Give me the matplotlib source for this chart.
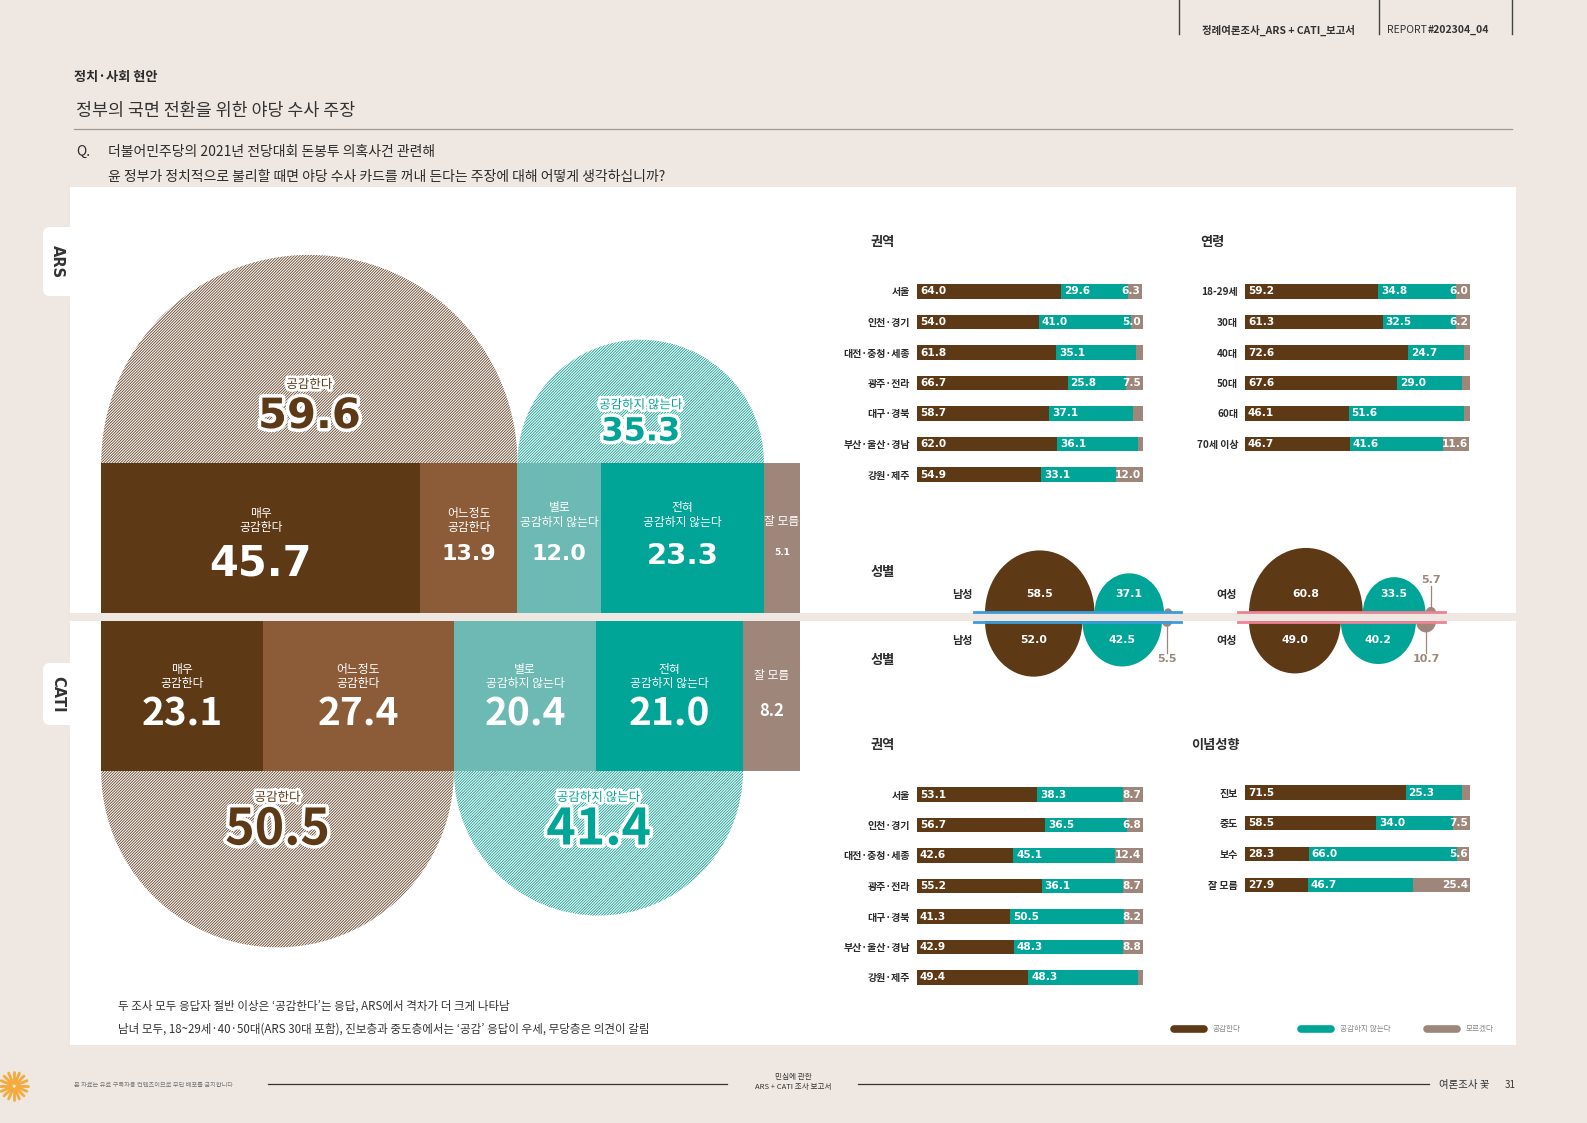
"""
ARS vs CATI survey page: opposition-probe claim, recreated with matplotlib.
"""

import numpy as np
import matplotlib.pyplot as plt
import matplotlib.patheffects as pe
from matplotlib.patches import Wedge, Rectangle, FancyBboxPatch

plt.rcParams['font.family'] = ['Noto Sans CJK KR', 'DejaVu Sans']
plt.rcParams['hatch.linewidth'] = 0.65

# Data

levels = ['매우\n공감한다', '어느정도\n공감한다', '별로\n공감하지 않는다',
          '전혀\n공감하지 않는다', '잘 모름']
ars_detail = [45.7, 13.9, 12.0, 23.3, 5.1]
cati_detail = [23.1, 27.4, 20.4, 21.0, 8.2]

net_labels = ['공감한다', '공감하지 않는다']
ars_net = [59.6, 35.3]
cati_net = [50.5, 41.4]

region = ['서울', '인천·경기', '대전·충청·세종', '광주·전라', '대구·경북',
          '부산·울산·경남', '강원·제주']
ars_region_agree = [64.0, 54.0, 61.8, 66.7, 58.7, 62.0, 54.9]
ars_region_disagree = [29.6, 41.0, 35.1, 25.8, 37.1, 36.1, 33.1]
ars_region_dk = [6.3, 5.0, 3.1, 7.5, 4.2, 1.9, 12.0]

age = ['18-29세', '30대', '40대', '50대', '60대', '70세 이상']
ars_age_agree = [59.2, 61.3, 72.6, 67.6, 46.1, 46.7]
ars_age_disagree = [34.8, 32.5, 24.7, 29.0, 51.6, 41.6]
ars_age_dk = [6.0, 6.2, 2.7, 3.4, 2.3, 11.6]

cati_region_agree = [53.1, 56.7, 42.6, 55.2, 41.3, 42.9, 49.4]
cati_region_disagree = [38.3, 36.5, 45.1, 36.1, 50.5, 48.3, 48.3]
cati_region_dk = [8.7, 6.8, 12.4, 8.7, 8.2, 8.8, 2.3]

ideology = ['진보', '중도', '보수', '잘 모름']
cati_ideo_agree = [71.5, 58.5, 28.3, 27.9]
cati_ideo_disagree = [25.3, 34.0, 66.0, 46.7]
cati_ideo_dk = [3.2, 7.5, 5.6, 25.4]

sex = ['남성', '여성']
ars_sex_agree = [58.5, 60.8]
ars_sex_disagree = [37.1, 33.5]
ars_sex_dk = [4.4, 5.7]
cati_sex_agree = [52.0, 49.0]
cati_sex_disagree = [42.5, 40.2]
cati_sex_dk = [5.5, 10.7]

legend_labels = ['공감한다', '공감하지 않는다', '모르겠다']

# Style

BROWN = '#5e3916'
BROWN2 = '#8b5c37'
TEAL2 = '#6cbab3'
TEAL = '#00a597'
GREY = '#9e877a'
PAGE = '#efe7e1'
INK = '#2b2b2b'
NUM = ['DejaVu Sans']
KR = ['Noto Sans CJK KR', 'DejaVu Sans']
HATCH = '/' * 12

W, H, DPI = 1587, 1123, 100
BAND = 617  # y (px) of the strip that splits ARS (top) from CATI (bottom)

fig = plt.figure(figsize=(W / DPI, H / DPI), dpi=DPI, facecolor=PAGE)
bg = fig.add_axes([0, 0, 1, 1])
bg.set_xlim(0, W)
bg.set_ylim(H, 0)
bg.axis('off')


def px_axes(x0, y0, x1, y1):
    """Transparent axes placed by a pixel box (y measured from the top)."""
    ax = fig.add_axes([x0 / W, 1 - y1 / H, (x1 - x0) / W, (y1 - y0) / H])
    ax.patch.set_visible(False)
    for s in ax.spines.values():
        s.set_visible(False)
    ax.set_xticks([])
    ax.set_yticks([])
    return ax


# Page furniture

bg.add_patch(Rectangle((70, 187), 1446, 858, color='white', lw=0))
for y0, y1, name in [(227, 296, 'ARS'), (663, 725, 'CATI')]:
    bg.add_patch(FancyBboxPatch((43, y0), 40, y1 - y0,
                                boxstyle='round,pad=0,rounding_size=7',
                                fc='white', ec='none'))
    bg.text(57.5, (y0 + y1) / 2, name, rotation=-90, ha='center',
            va='center', fontsize=10.5, fontweight='bold', color='#333',
            family=NUM)
bg.add_patch(Rectangle((70, BAND - 4), 1446, 8, color=PAGE, lw=0))

for x in [1179, 1378.5, 1512]:
    bg.plot([x, x], [0, 34], color='#444', lw=1)
bg.text(1279, 30, '정례여론조사_ARS + CATI_보고서', ha='center', va='center',
        fontsize=7.5, fontweight='bold', color='#333')
bg.text(1387, 30, 'REPORT', ha='left', va='center', fontsize=7.5,
        color='#333')
bg.text(1428, 30, '#202304_04', ha='left', va='center', fontsize=7.5,
        fontweight='bold', color='#333')

bg.text(74, 77, '정치·사회 현안', fontsize=9.5, fontweight='bold',
        va='center', color=INK)
bg.text(76, 111, '정부의 국면 전환을 위한 야당 수사 주장', fontsize=12.5,
        va='center', color='#333')
bg.plot([74, 1512], [128.5, 128.5], color='#9a9a9a', lw=0.9)
bg.text(76, 152, 'Q.', fontsize=10, va='center', color=INK)
bg.text(108, 152, '더불어민주당의 2021년 전당대회 돈봉투 의혹사건 관련해',
        fontsize=10, va='center', color=INK)
bg.text(108, 177, '윤 정부가 정치적으로 불리할 때면 야당 수사 카드를 꺼내 '
        '든다는 주장에 대해 어떻게 생각하십니까?',
        fontsize=10, va='center', color=INK)

# Left: stacked totals with net semicircles

PX = 6.984          # px per percentage point
lx0 = 101.2
lax = px_axes(lx0, 187, lx0 + 100 * PX, 1045)
lax.set_xlim(0, 100)
lax.set_ylim((BAND - 1045) / PX, (BAND - 187) / PX)


def uy(ypx):
    return (BAND - ypx) / PX


seg_colors = [BROWN, BROWN2, TEAL2, TEAL, GREY]
half = 4 / PX
bar_h = 150 / PX
hatch_cols = ['#6a4a30', '#16a396']
net_cols = [BROWN, TEAL]
stroke = [pe.withStroke(linewidth=4, foreground='white')]

# per-survey text placement (px) and number sizes
surveys = [
    dict(vals=ars_detail, nets=ars_net, sign=1, fam=NUM,
         lab_y=[520.5, 520.5, 515, 515, 521],
         num_y=[563, 553.6, 553.6, 555.6, 552.6],
         num_fs=[30, 16, 16, 21, 6.5],
         net_lab_y=[384.6, 405], net_num_y=[416, 432], net_fs=[30, 23]),
    dict(vals=cati_detail, nets=cati_net, sign=-1, fam=KR,
         lab_y=[676.5, 676.5, 676.5, 676.5, 676],
         num_y=[713.5, 713.5, 713.5, 713.5, 710.5],
         num_fs=[28, 28, 28, 28, 12],
         net_lab_y=[797.5, 797.5], net_num_y=[830, 830], net_fs=[36, 36]),
]

for sv in surveys:
    vals, sign = sv['vals'], sv['sign']
    lefts = np.concatenate([[0], np.cumsum(vals)[:-1]])
    lax.barh(sign * (half + bar_h / 2), vals, left=lefts, height=bar_h,
             color=seg_colors, lw=0, zorder=2)
    for i, (lab, v) in enumerate(zip(levels, vals)):
        cx = lefts[i] + v / 2
        lax.text(cx, uy(sv['lab_y'][i]), lab, ha='center', va='center',
                 color='white', fontsize=8.5, linespacing=1.15, zorder=4)
        lax.text(cx, uy(sv['num_y'][i]), f'{v:.1f}', ha='center',
                 va='center', color='white', fontsize=sv['num_fs'][i],
                 fontweight='bold', family=sv['fam'], zorder=4)

    x = 0
    t1, t2 = (0, 180) if sign > 0 else (180, 360)
    for j, v in enumerate(sv['nets']):
        cx = x + v / 2
        lax.add_patch(Wedge((cx, sign * (half + bar_h)), v / 2, t1, t2,
                            facecolor='white', edgecolor=hatch_cols[j],
                            hatch=HATCH, lw=0, zorder=1))
        lax.text(cx, uy(sv['net_lab_y'][j]), net_labels[j], ha='center',
                 va='center', color=net_cols[j], fontsize=9,
                 path_effects=stroke, zorder=4)
        lax.text(cx, uy(sv['net_num_y'][j]), f'{v:.1f}', ha='center',
                 va='center', color=net_cols[j], fontsize=sv['net_fs'][j],
                 fontweight='bold', family=sv['fam'],
                 path_effects=[pe.withStroke(linewidth=5,
                                             foreground='white')],
                 zorder=4)
        x += v


# Right: breakdown bars

def bar_panel(x0, x1, y_first, step, cats, agree, disagree, dk):
    n = len(cats)
    ax = px_axes(x0, y_first - step / 2, x1, y_first + step * (n - 0.5))
    ax.set_xlim(0, 100)
    ax.set_ylim(n - 0.5, -0.5)
    y = np.arange(n)
    mid = np.add(agree, disagree)
    ax.barh(y, agree, height=0.46, color=BROWN, lw=0)
    ax.barh(y, disagree, left=agree, height=0.46, color=TEAL, lw=0)
    ax.barh(y, dk, left=mid, height=0.46, color=GREY, lw=0)
    kw = dict(va='center', color='white', fontsize=7.6, fontweight='bold',
              family=NUM)
    for i in range(n):
        ax.text(1.3, i, f'{agree[i]:.1f}', ha='left', **kw)
        ax.text(agree[i] + 1.3, i, f'{disagree[i]:.1f}', ha='left', **kw)
        if dk[i] >= 5:
            ax.text(mid[i] + dk[i] - 0.8, i, f'{dk[i]:.1f}', ha='right',
                    **kw)
    ax.set_yticks(y, cats)
    ax.tick_params(axis='y', length=0, pad=5, labelsize=7.2, labelcolor=INK)
    for t in ax.get_yticklabels():
        t.set_fontweight('bold')
    return ax


bar_panel(917, 1142.7, 291.5, 30.5, region,
          ars_region_agree, ars_region_disagree, ars_region_dk)
bar_panel(1245, 1469.6, 291.5, 30.5, age,
          ars_age_agree, ars_age_disagree, ars_age_dk)
bar_panel(917, 1142.7, 794.5, 30.5, region,
          cati_region_agree, cati_region_disagree, cati_region_dk)
bar_panel(1245, 1469.6, 792.5, 30.7, ideology,
          cati_ideo_agree, cati_ideo_disagree, cati_ideo_dk)

for x, y, t in [(882.5, 242, '권역'), (1212.5, 242, '연령'),
                (882.5, 572, '성별'), (882.5, 660, '성별'),
                (882.5, 745, '권역'), (1215.5, 745, '이념성향')]:
    bg.text(x, y, t, ha='center', va='center', fontsize=9.5,
            fontweight='bold', color=INK)

# Gender: half-ellipses on the strip

KX, KY = 1.872, 2.14
gx0, gx1, gy0, gy1 = 930, 1480, 535, 700
gax = px_axes(gx0, gy0, gx1, gy1)
gax.set_xlim(0, (gx1 - gx0) / KX)
gax.set_ylim((BAND - gy1) / KY, (BAND - gy0) / KY)
gstart = [(985 - gx0) / KX, (1249 - gx0) / KX]
ghalf = 4 / KY
line_cols = ['#3b9cd9', '#ec8396']

for i, s in enumerate(sex):
    for sign, vals in [(1, (ars_sex_agree[i], ars_sex_disagree[i],
                            ars_sex_dk[i])),
                       (-1, (cati_sex_agree[i], cati_sex_disagree[i],
                             cati_sex_dk[i]))]:
        x = gstart[i]
        t1, t2 = (0, 180) if sign > 0 else (180, 360)
        for v, c in zip(vals, [BROWN, TEAL, GREY]):
            gax.add_patch(Wedge((x + v / 2, sign * ghalf), v / 2, t1, t2,
                                color=c, lw=0, zorder=1))
            if c != GREY:
                gax.text(x + v / 2, sign * 23 / KY, f'{v:.1f}', ha='center',
                         va='center', color='white', fontsize=7.8,
                         fontweight='bold', family=NUM, zorder=4)
            elif v >= 5:
                off = 32 if sign > 0 else 37
                gax.plot([x + v / 2] * 2,
                         [sign * (ghalf + v / 2), sign * (off - 1) / KY],
                         color=GREY, lw=0.9, zorder=1)
                gax.text(x + v / 2, sign * off / KY, f'{v:.1f}',
                         ha='center', va='bottom' if sign > 0 else 'top',
                         color=GREY, fontsize=8, fontweight='bold',
                         family=NUM)
            x += v
        gax.text(gstart[i] - 12 / KX, sign * 23 / KY, s, ha='right',
                 va='center', fontsize=8, fontweight='bold', color=INK)
    for yy in (5 / KY, -5 / KY):
        gax.plot([gstart[i] - 11 / KX, gstart[i] + 100 + 9 / KX], [yy, yy],
                 color=line_cols[i], lw=2, zorder=3)

# Legend

for c, t, x in zip([BROWN, TEAL, GREY], legend_labels, [1171, 1297.5, 1424]):
    bg.plot([x + 3, x + 33], [1029, 1029], color=c, lw=5.5,
            solid_capstyle='round')
    bg.text(x + 42, 1029, t, fontsize=5.5, color='#888', va='center')

# Notes and footer

bg.text(118.4, 1006, '두 조사 모두 응답자 절반 이상은 ‘공감한다’는 응답, '
        'ARS에서 격차가 더 크게 나타남', fontsize=8.3, va='center',
        color='#333')
bg.text(118.4, 1029, '남녀 모두, 18~29세·40·50대(ARS 30대 포함), 진보층과 '
        '중도층에서는 ‘공감’ 응답이 우세, 무당층은 의견이 갈림',
        fontsize=8.3, va='center', color='#333')

for ang in np.linspace(0, 2 * np.pi, 16, endpoint=False):
    bg.plot([14 + 3 * np.cos(ang), 14 + 14 * np.cos(ang)],
            [1086 + 3 * np.sin(ang), 1086 + 14 * np.sin(ang)],
            color='#f4ab3c', lw=2, solid_capstyle='round')
bg.text(74, 1085, '본 자료는 유료 구독자용 컨텐츠이므로 무단 배포를 금지합니다',
        fontsize=4.5, color='#777', va='center')
bg.plot([268, 727], [1084, 1084], color='#333', lw=0.9)
bg.text(793.5, 1082, '민심에 관한\nARS + CATI 조사 보고서', ha='center',
        va='center', fontsize=5.5, linespacing=1.5, color='#333')
bg.plot([858, 1429], [1084, 1084], color='#333', lw=0.9)
bg.text(1464.5, 1085, '여론조사 꽃', ha='center', va='center', fontsize=7.5,
        color='#333')
bg.text(1510, 1085, '31', ha='center', va='center', fontsize=7,
        color='#333')

fig.savefig('out.png', dpi=DPI, facecolor=PAGE)
